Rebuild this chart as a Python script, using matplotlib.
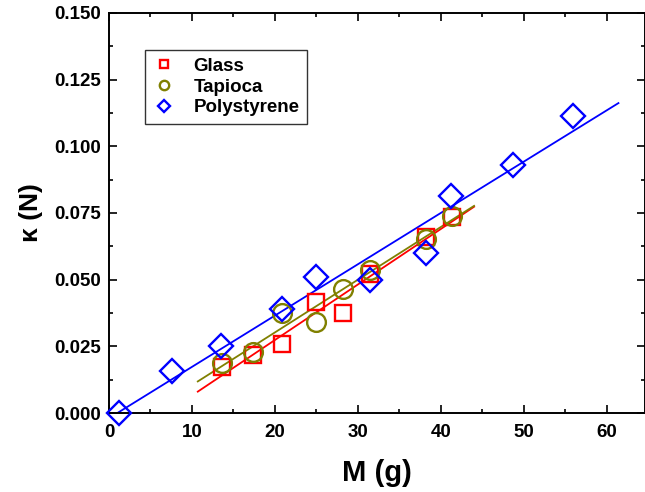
import numpy as np
import matplotlib
matplotlib.use("Agg")
import matplotlib.pyplot as plt
from matplotlib.ticker import MultipleLocator

# ---- data ----
glass_M = [13.6, 17.4, 20.9, 25.0, 28.2, 31.4, 38.2, 41.3]
glass_k = [0.0173, 0.0218, 0.0259, 0.0416, 0.0375, 0.0520, 0.0660, 0.0735]

tapioca_M = [13.6, 17.4, 20.9, 25.0, 28.2, 31.4, 38.2, 41.3]
tapioca_k = [0.0187, 0.0229, 0.0375, 0.0342, 0.0465, 0.0535, 0.0652, 0.0740]

poly_M = [1.2, 7.6, 13.5, 20.9, 25.0, 31.4, 38.2, 41.2, 48.7, 55.9]
poly_k = [0.0000, 0.0157, 0.0251, 0.0390, 0.0510, 0.0499, 0.0600, 0.0814, 0.0930, 0.1112]

# fitted line ranges (x extents of the drawn fits)
glass_fit_range = [10.7, 44.0]
tapioca_fit_range = [10.7, 44.0]
poly_fit_range = [0.0, 61.4]

series = [
    ("Glass", glass_M, glass_k, glass_fit_range, "#ff0000", "s", 11.5),
    ("Tapioca", tapioca_M, tapioca_k, tapioca_fit_range, "#808000", "o", 13.5),
    ("Polystyrene", poly_M, poly_k, poly_fit_range, "#0000ff", "D", 12.5),
]

plt.rcParams['font.family'] = ['Liberation Sans', 'DejaVu Sans']
plt.rcParams['font.weight'] = 'bold'

fig = plt.figure(figsize=(6.45, 4.92), dpi=100)
ax = fig.add_axes([109/645, 79/492, 536/645, 400/492])

for name, xs, ys, fr, col, mk, ms in series:
    ax.plot(xs, ys, linestyle='none', marker=mk, markersize=ms,
            markerfacecolor='none', markeredgecolor=col, markeredgewidth=1.7,
            label=name, clip_on=False, zorder=3)
    p = np.polyfit(xs, ys, 1)
    fx = np.array(fr)
    ax.plot(fx, np.polyval(p, fx), color=col, linewidth=1.3, zorder=2)

ax.set_xlim(0, 64.6)
ax.set_ylim(0, 0.150)
ax.xaxis.set_major_locator(MultipleLocator(10))
ax.xaxis.set_minor_locator(MultipleLocator(5))
ax.yaxis.set_major_locator(MultipleLocator(0.025))
ax.yaxis.set_minor_locator(MultipleLocator(0.0125))
ax.yaxis.set_major_formatter(matplotlib.ticker.FormatStrFormatter('%.3f'))

ax.tick_params(which='both', direction='in', top=True, right=True, width=1.2)
ax.tick_params(which='major', length=6, labelsize=13.5)
ax.tick_params(axis='x', which='major', pad=8)
ax.tick_params(axis='y', which='major', pad=6)
ax.tick_params(which='minor', length=3)
for lab in ax.get_xticklabels() + ax.get_yticklabels():
    lab.set_fontweight('bold')
for s in ax.spines.values():
    s.set_linewidth(1.4)

ax.set_xlabel("M (g)", fontsize=21, fontweight='bold', labelpad=13)
ax.set_ylabel("κ (N)", fontsize=19, fontweight='bold', labelpad=8)

leg = ax.legend(loc='upper left', bbox_to_anchor=(36/536, 363/400), borderaxespad=0,
                frameon=True, fancybox=False, edgecolor='black', markerscale=0.5,
                prop={'size': 13.5, 'weight': 'bold'}, labelspacing=0.2,
                handlelength=1.2, handletextpad=1.0, borderpad=0.4)
leg.get_frame().set_linewidth(1.0)

fig.savefig("out.png", dpi=100)
